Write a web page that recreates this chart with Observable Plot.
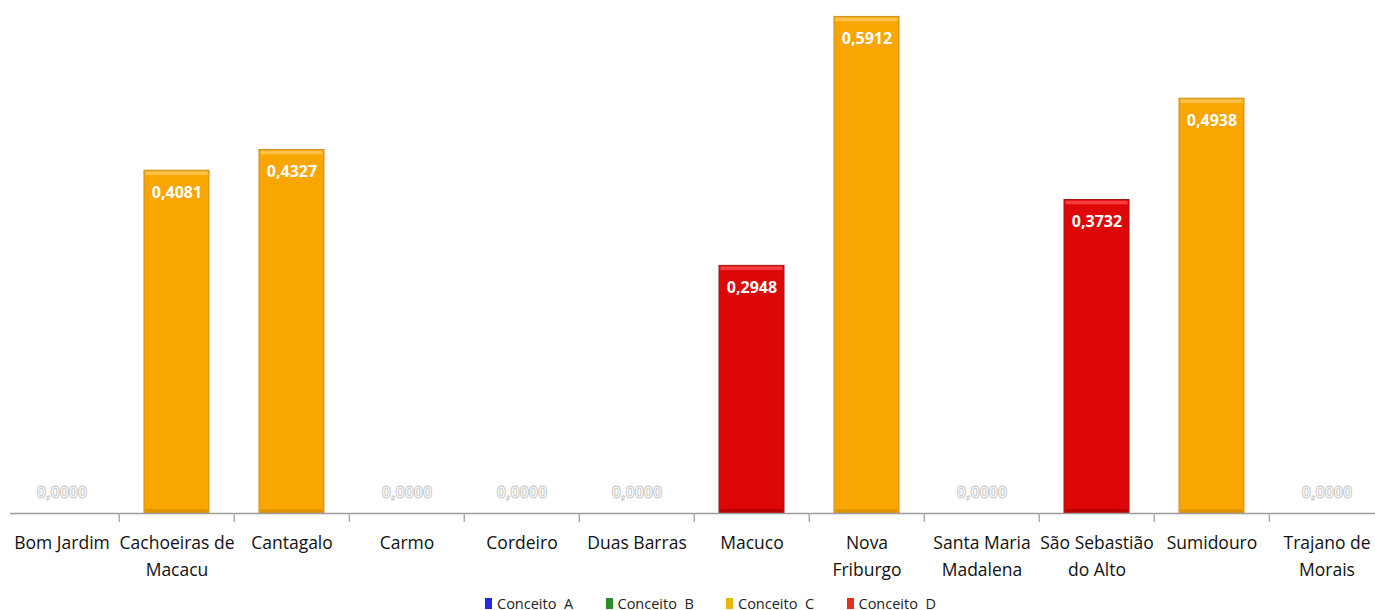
<!DOCTYPE html>
<html><head><meta charset="utf-8">
<script src="https://cdn.jsdelivr.net/npm/d3@7"></script>
<script src="https://cdn.jsdelivr.net/npm/@observablehq/plot@0.6"></script>
<style>
html,body{margin:0;padding:0;background:#fff;overflow:hidden;}
#chart svg.plot-main{display:block;overflow:visible;}
#legend > div{display:flex !important;align-items:center !important;height:20px !important;min-height:0 !important;margin:0 !important;padding-top:3px !important;padding-left:485px !important;font:14.5px "Open Sans",sans-serif !important;color:#222 !important;}
#legend > div > span{margin-right:0 !important;width:120.5px !important;display:inline-flex !important;align-items:center !important;white-space:pre !important;font:14.5px "Open Sans",sans-serif !important;}
#legend > div > span > svg{margin-right:5px !important;}
</style></head><body><div id="chart"></div><div id="legend"></div>
<script>
const categories = ["Bom Jardim","Cachoeiras de Macacu","Cantagalo","Carmo","Cordeiro","Duas Barras","Macuco","Nova Friburgo","Santa Maria Madalena","São Sebastião do Alto","Sumidouro","Trajano de Morais"];
const values = [0, 0.4081, 0.4327, 0, 0, 0, 0.2948, 0.5912, 0, 0.3732, 0.4938, 0];
const concepts = ["", "C", "C", "", "", "", "D", "C", "", "D", "C", ""];
const tickLabels = ["Bom Jardim","Cachoeiras de\nMacacu","Cantagalo","Carmo","Cordeiro","Duas Barras","Macuco","Nova\nFriburgo","Santa Maria\nMadalena","São Sebastião\ndo Alto","Sumidouro","Trajano de\nMorais"];
const legendLabels = ["Conceito  A","Conceito  B","Conceito  C","Conceito  D"];
const legendColors = ["#2626E6","#2A8C2A","#E8B60A","#E2301C"];

const pal = {
  C: {main:"#F9A602", light:"#FFC24A", dark:"#E09400", edge:"#C98E22"},
  D: {main:"#DE0707", light:"#F64040", dark:"#B80000", edge:"#A41414"}
};
const fmt = v => d3.format(".4f")(v).replace(".", ",");

const data = categories.map((c, i) => ({c, v: values[i], k: concepts[i]}));
const bars = data.filter(d => d.v > 0);
const zeros = data.filter(d => d.v === 0);

const W = 1375, xRange = [1, 1386];
const step = (xRange[1] - xRange[0]) / categories.length;
const font = "'Open Sans', sans-serif";

const chart = Plot.plot({
  width: W, height: 590,
  marginLeft: 10, marginRight: 0, marginTop: 9, marginBottom: 77,
  style: {fontFamily: font, color: "#111", background: "#fff"},
  x: {domain: categories, range: xRange, paddingInner: 0.437, paddingOuter: 0.2185, axis: null, label: null},
  y: {domain: [0, 0.6], axis: null, label: null},
  marks: [
    Plot.barY(bars, {x: "c", y: "v", fill: d => pal[d.k].main, stroke: d => pal[d.k].edge, strokeWidth: 1}),
    Plot.tickY(bars, {x: "c", y: "v", dy: 2.5, strokeWidth: 3.5, stroke: d => pal[d.k].light, insetLeft: 1.5, insetRight: 1.5}),
    Plot.tickY(bars, {x: "c", y: 0, dy: -2.5, strokeWidth: 4, stroke: d => pal[d.k].dark, insetLeft: 1.5, insetRight: 1.5}),
    Plot.ruleY([0], {stroke: "#9c9c9c", strokeWidth: 1.5}),
    Plot.axisX({ticks: categories.slice(1), tickSize: 9, tickFormat: null, label: null, dx: -step / 2, stroke: "#aaa", strokeWidth: 1.5}),
    Plot.axisX({tickSize: 0, tickPadding: 16, label: null, tickFormat: d => tickLabels[categories.indexOf(d)], fontSize: 17.5, lineHeight: 1.55, fill: "#111", fontFamily: font}),
    Plot.text(bars, {x: "c", y: "v", text: d => fmt(d.v), dy: 22, fill: "white", fontWeight: "bold", fontSize: 16, fontFamily: font}),
    Plot.text(zeros, {x: "c", y: "v", text: d => fmt(d.v), dy: -21, fill: "white", stroke: "#c4c4c4", strokeWidth: 0.9, paintOrder: "normal", fontWeight: "bold", fontSize: 16, fontFamily: font})
  ]
});
chart.classList.add("plot-main");
document.getElementById("chart").append(chart);

const legend = Plot.legend({
  color: {domain: legendLabels, range: legendColors},
  legend: "swatches", swatchWidth: 7, swatchHeight: 11, className: "lg"
});
document.getElementById("legend").append(legend);
</script></body></html>
